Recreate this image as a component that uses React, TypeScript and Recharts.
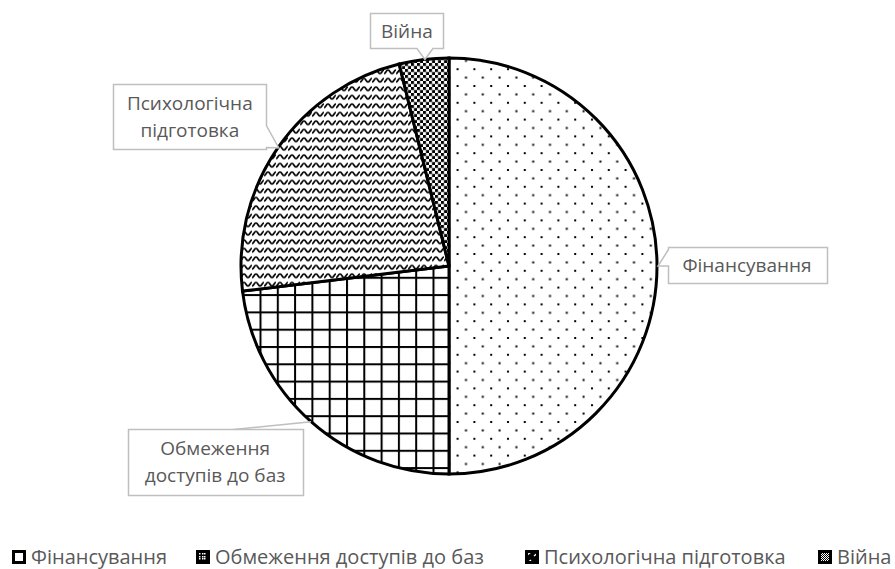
import { PieChart, Pie, Cell } from "recharts";

const categories = ["Фінансування", "Обмеження доступів до баз", "Психологічна підготовка", "Війна"];
const values = [13, 6, 6, 1];
const labelLines = [["Фінансування"], ["Обмеження", "доступів до баз"], ["Психологічна", "підготовка"], ["Війна"]];
const patternIds = ["pat-dots", "pat-grid", "pat-wave", "pat-check"];

const data = categories.map((name, i) => ({ name, value: values[i] }));

// callout box placement relative to the slice's edge point
const callouts = [
  { dx: 90, dy: -1, w: 159, h: 36, side: "left" },
  { dx: -96, dy: 40, w: 175, h: 66, side: "line" },
  { dx: -88, dy: -31, w: 153, h: 65, side: "right" },
  { dx: -17, dy: -29, w: 73, h: 35, side: "bottom" },
];

// legend item left edges
const legendX = [12, 196, 525, 818];

const RAD = Math.PI / 180;
const FONT = "'Open Sans', sans-serif";
const TEXT = "#595959";
const BORDER = "#bfbfbf";

function calloutPath(x0: number, y0: number, x1: number, y1: number, side: string, tx: number, ty: number) {
  if (side === "left") {
    const a = y0 + 2, b = Math.min(y1 - 2, ty);
    return `M${x0},${y0} L${x1},${y0} L${x1},${y1} L${x0},${y1} L${x0},${b} L${tx},${ty} L${x0},${a} Z`;
  }
  if (side === "right") {
    const a = Math.max(y0 + 2, ty - 22), b = y1 - 2;
    return `M${x0},${y0} L${x1},${y0} L${x1},${a} L${tx},${ty} L${x1},${b} L${x1},${y1} L${x0},${y1} Z`;
  }
  if (side === "bottom") {
    const a = tx - 8, b = tx + 8;
    return `M${x0},${y0} L${x1},${y0} L${x1},${y1} L${b},${y1} L${tx},${ty} L${a},${y1} L${x0},${y1} Z`;
  }
  return `M${x0},${y0} L${x1},${y0} L${x1},${y1} L${x0},${y1} Z`;
}

function renderLabel(props: any) {
  const { cx, cy, midAngle, outerRadius, index } = props;
  const ex = cx + outerRadius * Math.cos(-midAngle * RAD);
  const ey = cy + outerRadius * Math.sin(-midAngle * RAD);
  const c = callouts[index];
  const bx = ex + c.dx;
  const by = ey + c.dy;
  const x0 = Math.round(bx - c.w / 2) + 0.5;
  const y0 = Math.round(by - c.h / 2) + 0.5;
  const x1 = x0 + c.w;
  const y1 = y0 + c.h;
  const lines = labelLines[index];
  const lh = 27;
  const startY = by - ((lines.length - 1) * lh) / 2;
  return (
    <g key={`lbl-${index}`}>
      {c.side === "line" && (
        <line x1={x0 + 105} y1={y0} x2={ex} y2={ey} stroke={BORDER} strokeWidth={1.5} />
      )}
      <path d={calloutPath(x0, y0, x1, y1, c.side, ex + 1, ey)} fill="#fff" stroke={BORDER} strokeWidth={1.5} />
      {lines.map((t, k) => (
        <text
          key={k}
          x={bx}
          y={startY + k * lh}
          textAnchor="middle"
          dominantBaseline="central"
          fill={TEXT}
          fontSize={19}
          fontFamily={FONT}
        >
          {t}
        </text>
      ))}
    </g>
  );
}

function LegendRow() {
  return (
    <div style={{ position: "absolute", left: 0, top: 545, width: 895, height: 23 }}>
      {categories.map((name, i) => (
        <span
          key={name}
          style={{
            position: "absolute",
            left: legendX[i],
            top: 0,
            display: "flex",
            alignItems: "center",
            fontFamily: FONT,
            fontSize: 20,
            color: TEXT,
            whiteSpace: "nowrap",
            lineHeight: "23px",
          }}
        >
          <svg width={14} height={14} style={{ marginRight: 5 }}>
            <rect x={1.5} y={1.5} width={11} height={11} fill={`url(#${patternIds[i]}-s)`} stroke="#000" strokeWidth={3} />
          </svg>
          {name}
        </span>
      ))}
    </div>
  );
}

export default function App() {
  return (
    <div style={{ position: "absolute", left: 0, top: 0, width: 895, height: 569, background: "#fff" }}>
      <svg width={0} height={0} style={{ position: "absolute" }}>
        <defs>
          <pattern id="pat-dots-s" width="4" height="4" patternUnits="userSpaceOnUse">
            <rect width="4" height="4" fill="#fff" />
          </pattern>
          <pattern id="pat-grid-s" width="5" height="5" patternUnits="userSpaceOnUse">
            <rect width="5" height="5" fill="#000" />
            <rect x="1" y="1" width="1.5" height="1.5" fill="#fff" />
            <rect x="3" y="1" width="1.5" height="1.5" fill="#fff" />
            <rect x="1" y="3" width="1.5" height="1.5" fill="#fff" />
            <rect x="3" y="3" width="1.5" height="1.5" fill="#fff" />
          </pattern>
          <pattern id="pat-wave-s" width="8" height="8" patternUnits="userSpaceOnUse">
            <rect width="8" height="8" fill="#000" />
            <path d="M1,6 L6,2" stroke="#fff" strokeWidth={1.5} />
          </pattern>
          <pattern id="pat-check-s" width="2" height="2" patternUnits="userSpaceOnUse">
            <rect width="2" height="2" fill="#fff" />
            <rect width="1" height="1" fill="#000" />
            <rect x="1" y="1" width="1" height="1" fill="#000" />
          </pattern>
        </defs>
      </svg>
      <PieChart width={895} height={569} margin={{ top: 0, right: 0, bottom: 0, left: 0 }}>
        <defs>
          <pattern id="pat-dots" width="16.8" height="16.8" patternUnits="userSpaceOnUse">
            <rect width="16.8" height="16.8" fill="#fff" />
            <rect x="3" y="1" width="2" height="2" fill="#000" />
            <rect x="11.4" y="9.4" width="2" height="2" fill="#000" />
          </pattern>
          <pattern id="pat-grid" width="17.3" height="17.3" patternUnits="userSpaceOnUse">
            <rect width="17.3" height="17.3" fill="#fff" />
            <rect x="0" y="0" width="2" height="17.3" fill="#000" />
            <rect x="0" y="0" width="17.3" height="2" fill="#000" />
          </pattern>
          <pattern id="pat-wave" width="12" height="8.5" patternUnits="userSpaceOnUse">
            <rect width="12" height="8.5" fill="#fff" />
            <path d="M0,5.5 C2,5.5 2,2 4,2 C6,2 6,5.5 8,5.5 C10,5.5 10,2 12,2" fill="none" stroke="#000" strokeWidth={1.7} />
          </pattern>
          <pattern id="pat-check" width="6" height="6" patternUnits="userSpaceOnUse">
            <rect width="6" height="6" fill="#fff" />
            <rect x="0" y="0" width="3" height="3" fill="#000" />
            <rect x="3" y="3" width="3" height="3" fill="#000" />
            <rect x="0" y="0" width="6" height="6" fill="none" stroke="#888" strokeWidth={0.6} />
          </pattern>
        </defs>
        <Pie
          data={data}
          dataKey="value"
          nameKey="name"
          cx={449}
          cy={266}
          outerRadius={208}
          startAngle={90}
          endAngle={-270}
          stroke="#000"
          strokeWidth={3}
          label={renderLabel}
          labelLine={false}
          isAnimationActive={false}
        >
          {data.map((d, i) => (
            <Cell key={d.name} fill={`url(#${patternIds[i]})`} />
          ))}
        </Pie>
      </PieChart>
      <LegendRow />
    </div>
  );
}
